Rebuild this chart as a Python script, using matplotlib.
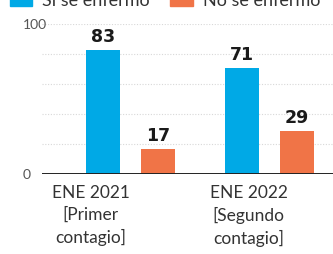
import numpy as np
import matplotlib.pyplot as plt
from matplotlib.patches import Rectangle

# data
categories = ["ENE 2021\n[Primer\ncontagio]", "ENE 2022\n[Segundo\ncontagio]"]
series_names = ["Sí se enfermó", "No se enfermó"]
si_values = [83, 71]
no_values = [17, 29]
colors = ["#00a9e6", "#f07447"]

W, H = 333, 255
fig = plt.figure(figsize=(W / 100, H / 100), dpi=100)
fig.patch.set_facecolor("white")

# axes placed so 0 sits at y=175px and 100 at y=25px
ax = fig.add_axes([42 / W, 1 - 175 / H, 1 - 42 / W, 150 / H])
ax.set_ylim(0, 100)
ax.set_xlim(-0.64, 1.46)

x = np.arange(len(categories))
offset = 0.2
width = 0.245
bars1 = ax.bar(x - offset, si_values, width, color=colors[0], zorder=3)
bars2 = ax.bar(x + offset, no_values, width, color=colors[1], zorder=3)

for bars in (bars1, bars2):
    for b in bars:
        ax.annotate(f"{b.get_height():.0f}", (b.get_x() + b.get_width() / 2, b.get_height()),
                    xytext=(0, 3), textcoords="offset points", ha="center", va="bottom",
                    fontsize=12.5, fontweight="bold", color="#1a1a1a", family="DejaVu Sans")

# grid
for v in [20, 40, 60, 80, 100]:
    ax.axhline(v, color="#d8d8d8", lw=0.8, ls=(0, (1, 1.5)), zorder=1)
ax.axhline(0, color="#222222", lw=1.4, zorder=4)

for s in ax.spines.values():
    s.set_visible(False)
ax.set_xticks([])
ax.set_yticks([])

# y labels, left aligned
for v in [0, 100]:
    ax.text(-0.62 - 0.16, v, str(v), ha="left", va="center", fontsize=10,
            color="#555555", family="Lato", clip_on=False)

# category labels (not centred on the groups in the original)
label_shift = [-0.29, -0.15]
for xi, lab, sh in zip(x, categories, label_shift):
    ax.text(xi + sh, -7, lab, ha="center", va="top", fontsize=12.5,
            color="#333333", family="Lato",
            linespacing=1.42, clip_on=False)

# legend at top, partly cut off
fig.patches.append(Rectangle((10 / W, 1 - 7 / H), 22 / W, 20 / H,
                             transform=fig.transFigure, color=colors[0]))
fig.patches.append(Rectangle((170 / W, 1 - 7 / H), 23 / W, 20 / H,
                             transform=fig.transFigure, color=colors[1]))
fig.text(42 / W, 1 - 6 / H, series_names[0], ha="left", va="baseline",
         fontsize=13, color="#333333", family="Lato")
fig.text(203 / W, 1 - 6 / H, series_names[1], ha="left", va="baseline",
         fontsize=13, color="#333333", family="Lato")

fig.savefig("out.png", dpi=100)
